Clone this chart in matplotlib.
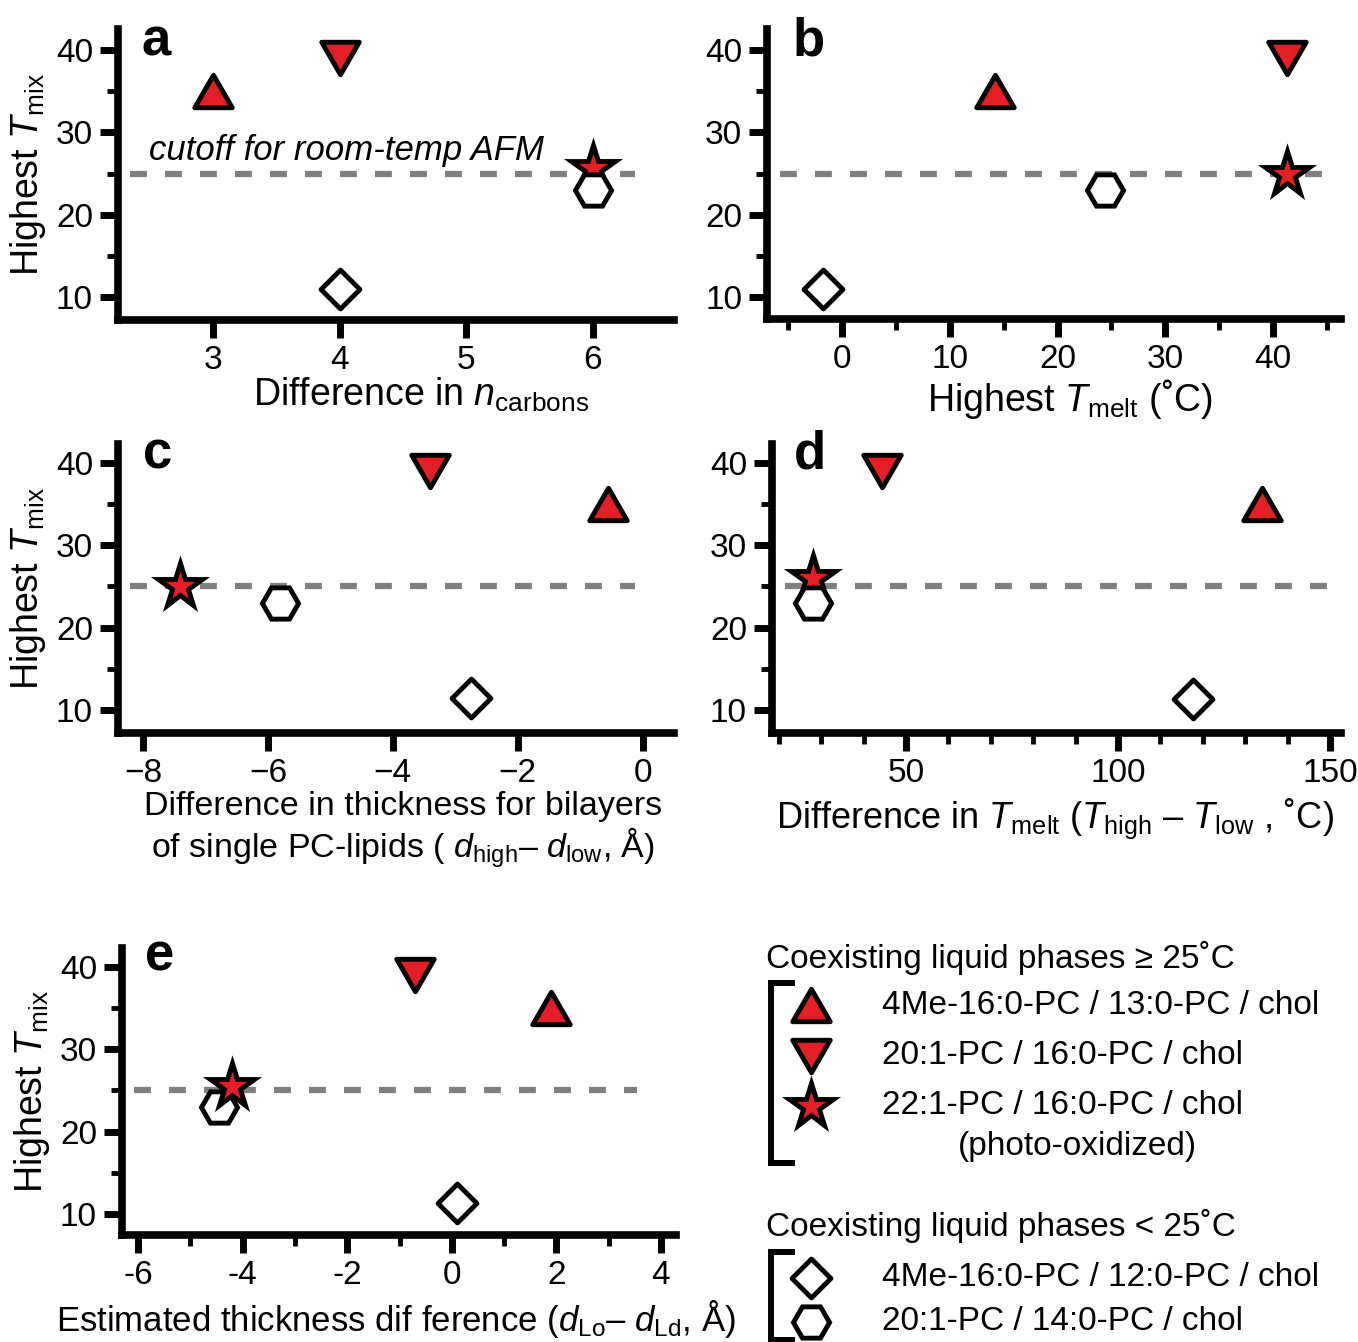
import matplotlib
matplotlib.use("Agg")
import matplotlib.pyplot as plt
from matplotlib.markers import MarkerStyle
from matplotlib.path import Path

W, H = 1358, 1342

RED = "#E41E26"
GREY = "#808080"
CUTOFF = 25

# series order in every panel: up-triangle, down-triangle, star, diamond, hexagon
labels_hi = ["4Me-16:0-PC / 13:0-PC / chol", "20:1-PC / 16:0-PC / chol",
             "22:1-PC / 16:0-PC / chol"]
labels_lo = ["4Me-16:0-PC / 12:0-PC / chol", "20:1-PC / 14:0-PC / chol"]

a_x = [3, 4, 6, 4, 6]
a_y = [35, 39, 25.7, 11, 23]
b_x = [14.2, 41.3, 41.3, -1.75, 24.4]
b_y = [35, 39, 25, 11, 23]
c_x = [-0.56, -3.4, -7.4, -2.75, -5.8]
c_y = [35, 39, 25, 11.4, 23]
d_x = [134, 44.3, 28, 117.7, 28]
d_y = [35, 39, 26, 11.3, 23]
e_x = [1.9, -0.7, -4.2, 0.1, -4.45]
e_y = [35, 39, 25.5, 11.3, 23]

y_ticks = [10, 20, 30, 40]
y_minor = [15, 25, 35]

plt.rcParams["font.family"] = ["Liberation Sans", "DejaVu Sans"]
plt.rcParams["mathtext.fontset"] = "custom"
plt.rcParams["mathtext.rm"] = "Liberation Sans"
plt.rcParams["mathtext.it"] = "Liberation Sans:italic"
plt.rcParams["mathtext.bf"] = "Liberation Sans:bold"

tri = Path([(-1, -0.866), (1, -0.866), (0, 0.866), (0, 0)], closed=True)
tri_dn = Path([(-1, 0.866), (1, 0.866), (0, -0.866), (0, 0)], closed=True)
dia = Path([(0, 1), (1, 0), (0, -1), (-1, 0), (0, 0)], closed=True)

MARKERS = [
    dict(marker=MarkerStyle(tri, joinstyle="miter"), ms=27, mfc=RED),
    dict(marker=MarkerStyle(tri_dn, joinstyle="miter"), ms=27, mfc=RED),
    dict(marker=MarkerStyle("*", joinstyle="miter"), ms=33, mfc=RED),
    dict(marker=MarkerStyle(dia, joinstyle="miter"), ms=28, mfc="white"),
    dict(marker=MarkerStyle("H", joinstyle="miter"), ms=26, mfc="white"),
]

fig = plt.figure(figsize=(W / 100, H / 100), dpi=100)


def add_panel(left, right, top, bottom, xlim, ylim):
    ax = fig.add_axes([left / W, 1 - bottom / H, (right - left) / W, (bottom - top) / H])
    ax.set_xlim(xlim)
    ax.set_ylim(ylim)
    ax.patch.set_alpha(0)
    for s in ["top", "right"]:
        ax.spines[s].set_visible(False)
    for s in ["left", "bottom"]:
        ax.spines[s].set_linewidth(5.5)
    ax.tick_params(which="major", length=13, width=5, labelsize=24, pad=5)
    ax.tick_params(which="minor", length=8, width=3.5)
    ax.set_yticks(y_ticks)
    ax.set_yticks(y_minor, minor=True)
    return ax


def draw(ax, xs, ys, order, xmax=0.93):
    ax.axhline(CUTOFF, 0.022, xmax, color=GREY, lw=4.5, ls=(0, (2.7, 2.9)), zorder=1)
    for z, i in enumerate(order):
        ax.plot(xs[i], ys[i], ls="none", mec="k", mew=3.5, zorder=3 + z, clip_on=False,
                **MARKERS[i])


def letter(ax, s, x, y):
    ax.text(x, y, s, transform=ax.transAxes, fontsize=38, fontweight="bold",
            ha="left", va="baseline")


ylabel = r"Highest $T_{\rm mix}$"

# a
ax = add_panel(118, 674, 29, 320, (2.25, 6.64), (7.21, 42.55))
draw(ax, a_x, a_y, [0, 1, 3, 2, 4])
ax.set_xticks([3, 4, 5, 6])
ax.set_ylabel(ylabel, fontsize=27, labelpad=6)
ax.set_xlabel(r"Difference in $n_{\rm carbons}$", fontsize=27)
ax.xaxis.set_label_coords(0.545, -0.19)
ax.text(0.055, 0.583, "cutoff for room-temp AFM", transform=ax.transAxes,
        fontsize=25, style="italic", va="center")
letter(ax, "a", 0.042, 0.908)

# b
ax = add_panel(767, 1341, 29, 319, (-6.96, 46.3), (7.33, 42.55))
draw(ax, b_x, b_y, [0, 1, 3, 4, 2], xmax=0.99)
ax.set_xticks([0, 10, 20, 30, 40])
ax.set_xticks([-5, 5, 15, 25, 35, 45], minor=True)
ax.set_xlabel(r"Highest $T_{\rm melt}$ (˚C)", fontsize=27)
ax.xaxis.set_label_coords(0.527, -0.2)
letter(ax, "b", 0.045, 0.91)

# c
ax = add_panel(118, 674, 444, 733, (-8.4, 0.5), (7.2, 42.3))
draw(ax, c_x, c_y, [0, 1, 3, 4, 2])
ax.set_xticks([-8, -6, -4, -2, 0])
ax.set_ylabel(ylabel, fontsize=27, labelpad=6)
ax.set_xlabel("Difference in thickness for bilayers\n"
              r"of single PC-lipids ( $d_{\rm high}$– $d_{\rm low}$, Å)",
              fontsize=24.5, linespacing=1.12)
ax.xaxis.set_label_coords(0.513, -0.2)
letter(ax, "c", 0.045, 0.915)

# d
ax = add_panel(772, 1341, 444, 733, (18.4, 152.6), (7.2, 42.3))
draw(ax, d_x, d_y, [0, 1, 3, 2, 4], xmax=0.99)
ax.set_xticks([50, 100, 150])
ax.set_xticks([20, 30, 40, 60, 70, 80, 90, 110, 120, 130, 140], minor=True)
ax.set_xlabel(r"Difference in $T_{\rm melt}$ ($T_{\rm high}$ – $T_{\rm low}$ , ˚C)",
              fontsize=26)
ax.xaxis.set_label_coords(0.497, -0.22)
letter(ax, "d", 0.038, 0.915)

# e
ax = add_panel(122, 676, 948, 1235, (-6.31, 4.29), (7.45, 42.3))
draw(ax, e_x, e_y, [0, 1, 3, 4, 2])
e_ticks = [-6, -4, -2, 0, 2, 4]
ax.set_xticks(e_ticks)
ax.set_xticklabels([str(t) for t in e_ticks])
ax.set_xticks([-5, -3, -1, 1, 3], minor=True)
ax.set_ylabel(ylabel, fontsize=27, labelpad=6)
ax.set_xlabel(r"Estimated thickness dif ference ($d_{\rm Lo}$– $d_{\rm Ld}$, Å)",
              fontsize=25)
ax.xaxis.set_label_coords(0.495, -0.22)
letter(ax, "e", 0.041, 0.92)

# legend drawn in pixel coordinates
lg = fig.add_axes([0, 0, 1, 1])
lg.set_xlim(0, W)
lg.set_ylim(H, 0)
lg.axis("off")
lg.patch.set_alpha(0)

lg.text(766, 958, "Coexisting liquid phases ≥ 25˚C", fontsize=24, va="center")
lg.plot([792, 771, 771, 792], [983, 983, 1163, 1163], color="k", lw=4.3,
        solid_joinstyle="miter")
for i, (lab, yy) in enumerate(zip(labels_hi, [1005, 1056, 1106])):
    lg.plot(811, yy, ls="none", mec="k", mew=3.5, **MARKERS[i])
    lg.text(882, yy, lab, fontsize=24, va="center")
lg.text(1077, 1147, "(photo-oxidized)", fontsize=24, va="center", ha="center")

lg.text(766, 1226, "Coexisting liquid phases < 25˚C", fontsize=24, va="center")
lg.plot([792, 771, 771, 792], [1252, 1252, 1340, 1340], color="k", lw=4.3,
        solid_joinstyle="miter")
for i, (lab, yy) in zip([3, 4], zip(labels_lo, [1278, 1322])):
    lg.plot(811, yy, ls="none", mec="k", mew=3.5, **MARKERS[i])
    lg.text(882, yy, lab, fontsize=24, va="center")

fig.savefig("out.png", dpi=100, facecolor="white")
